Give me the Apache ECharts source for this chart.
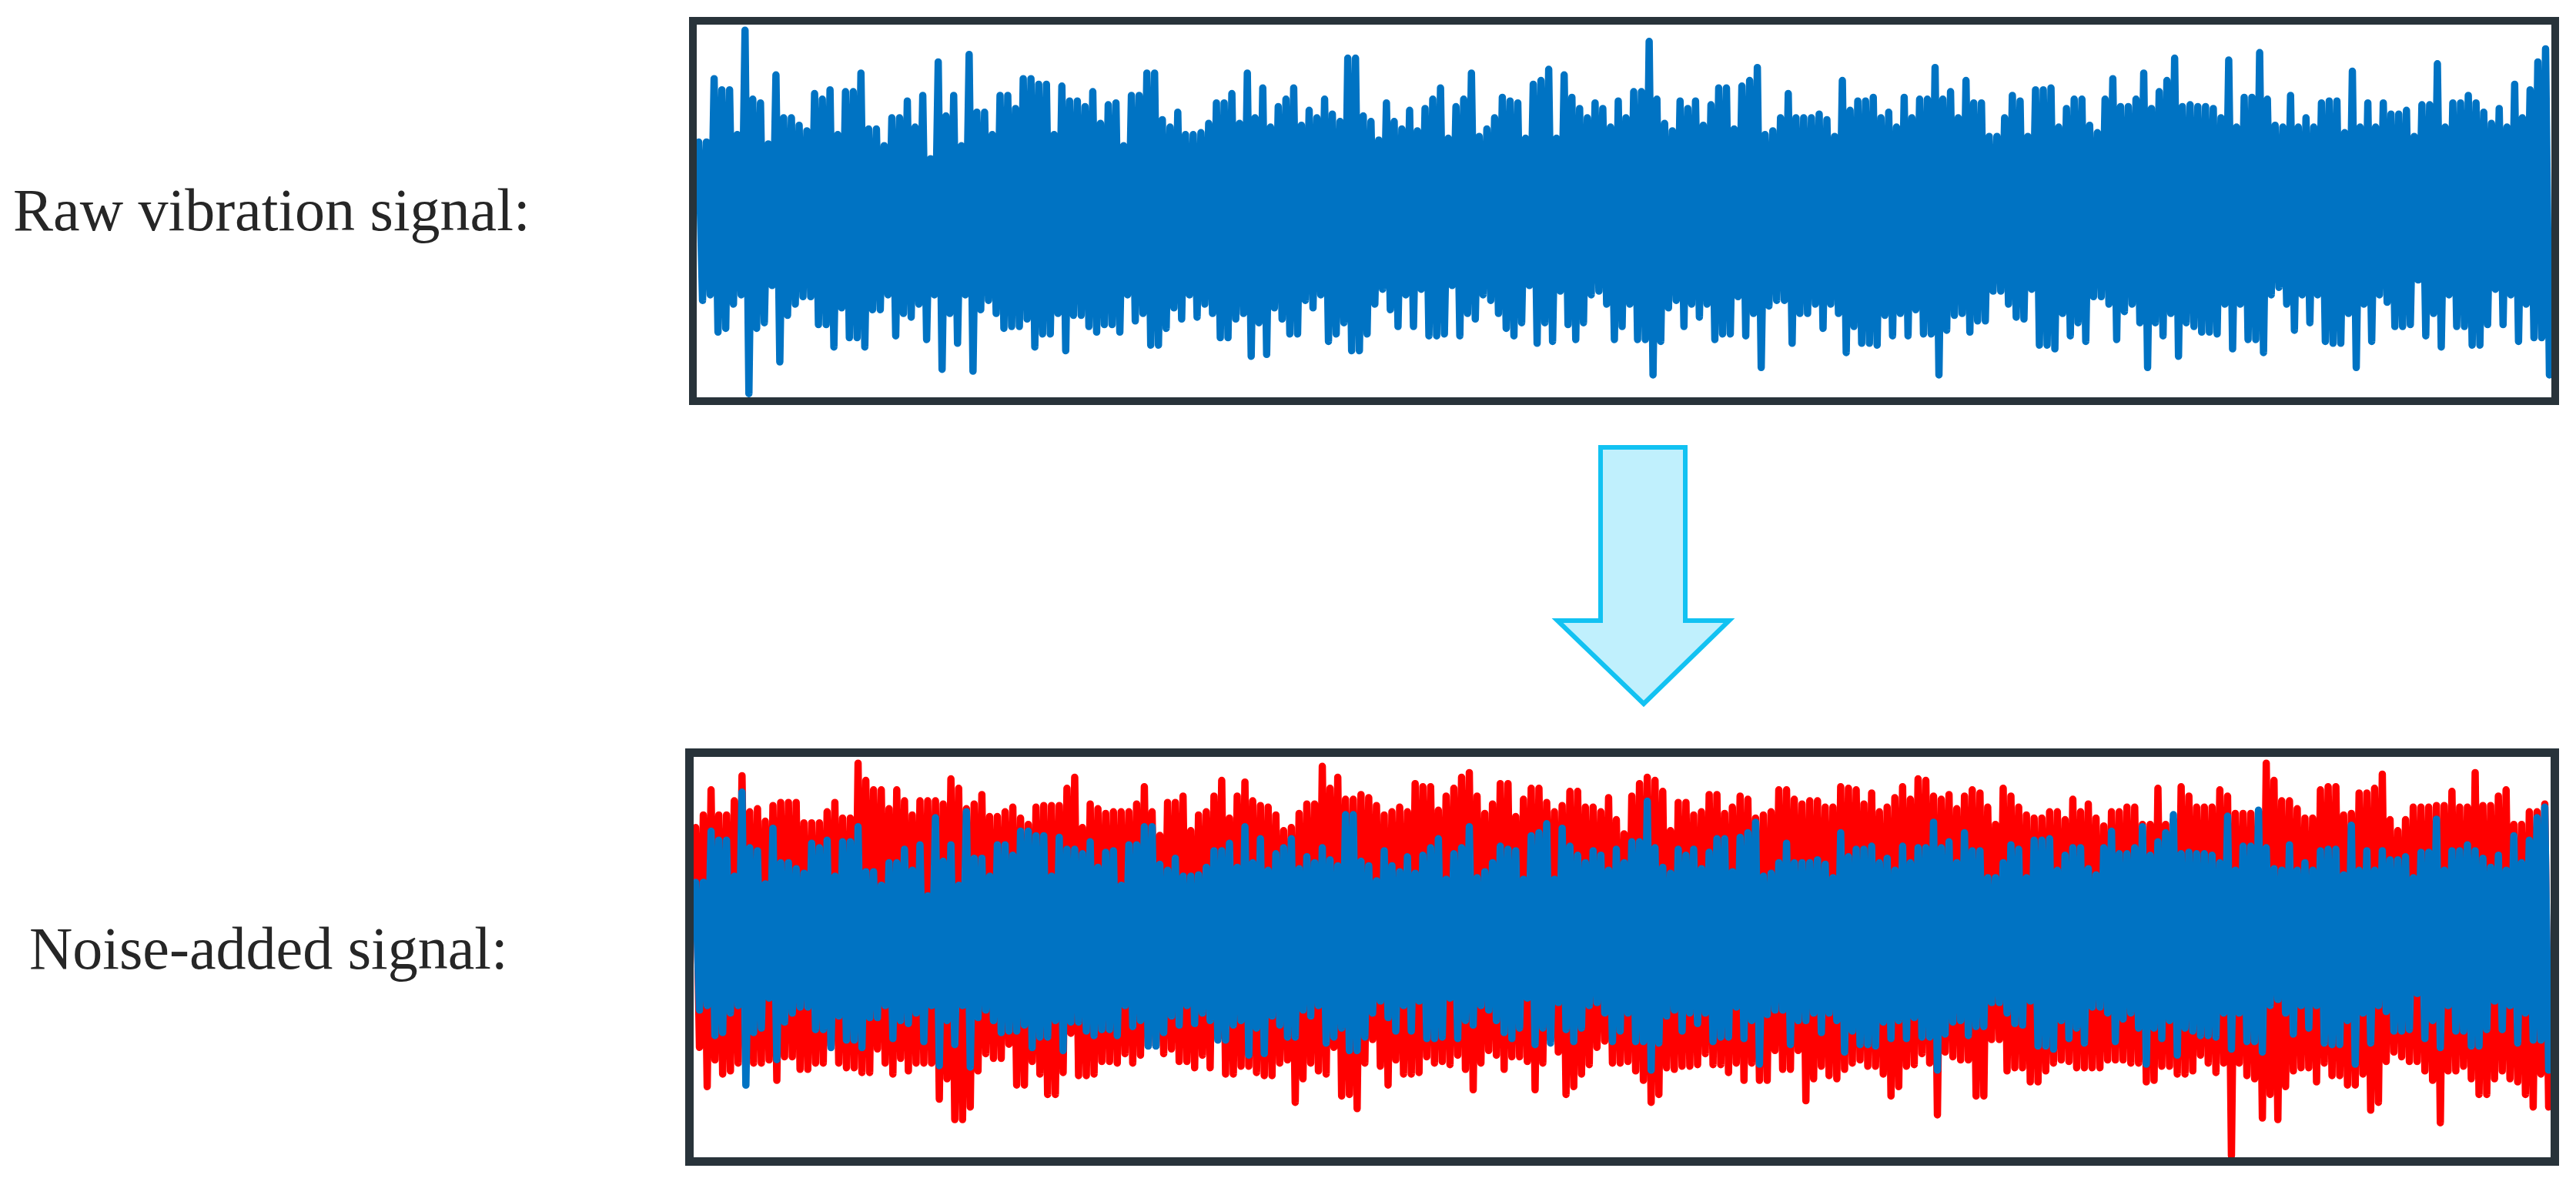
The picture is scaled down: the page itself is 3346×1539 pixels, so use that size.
<!DOCTYPE html>
<html>
<head>
<meta charset="utf-8">
<title>Raw vs noise-added vibration signal</title>
<script src="https://cdn.jsdelivr.net/npm/echarts@6/dist/echarts.min.js"></script>
<style>
  html, body { margin: 0; padding: 0; background: #fff; }
  #chart { width: 3346px; height: 1539px; }
</style>
</head>
<body>
<div id="chart"></div>
<script>
// Envelope of the raw vibration signal, one value per column (upper peak / lower peak magnitude)
const rawUp = [
  37, 37, 71, 65, 65, 41, 97, 60, 58, 36,
  73, 50, 50, 46, 43, 63, 60, 65, 41, 64,
  64, 74, 44, 44, 35, 50, 50, 59, 45, 62,
  28, 80, 51, 62, 35, 84, 53, 53, 41, 62,
  62, 55, 71, 71, 68, 68, 41, 67, 59, 59,
  56, 64, 47, 57, 58, 35, 62, 62, 74, 74,
  49, 45, 53, 41, 41, 42, 47, 58, 58, 63,
  47, 74, 50, 66, 45, 56, 60, 66, 46, 54,
  50, 60, 52, 48, 82, 82, 51, 48, 38, 58,
  48, 44, 54, 43, 55, 60, 66, 39, 56, 60,
  74, 40, 44, 50, 61, 59, 58, 39, 68, 70,
  76, 39, 73, 61, 55, 50, 58, 55, 45, 59,
  50, 64, 64, 91, 60, 47, 43, 59, 55, 59,
  46, 57, 66, 66, 44, 67, 70, 77, 41, 43,
  50, 63, 50, 50, 50, 52, 49, 40, 70, 54,
  59, 59, 61, 50, 53, 45, 61, 50, 60, 60,
  77, 60, 64, 50, 70, 58, 58, 40, 40, 50,
  62, 59, 40, 65, 65, 66, 45, 55, 60, 60,
  46, 42, 60, 71, 56, 56, 60, 74, 55, 64,
  70, 82, 56, 57, 56, 56, 55, 50, 81, 45,
  61, 61, 85, 60, 46, 45, 62, 45, 50, 45,
  58, 59, 59, 42, 75, 45, 58, 45, 58, 52,
  52, 54, 40, 57, 57, 79, 45, 58, 58, 62,
  58, 53, 47, 55, 45, 68, 50, 65, 80, 87
];
const rawDown = [
  48, 45, 65, 63, 50, 45, 98, 63, 60, 40,
  81, 56, 50, 46, 46, 61, 61, 73, 52, 68,
  68, 73, 53, 53, 45, 67, 55, 57, 50, 69,
  45, 85, 55, 71, 45, 86, 53, 48, 55, 63,
  62, 62, 58, 73, 66, 66, 55, 75, 56, 56,
  62, 65, 61, 61, 65, 45, 59, 55, 72, 72,
  63, 52, 58, 45, 57, 50, 55, 68, 68, 58,
  55, 78, 60, 77, 52, 58, 66, 66, 48, 52,
  45, 70, 66, 60, 75, 75, 66, 50, 42, 53,
  62, 45, 62, 42, 67, 67, 66, 40, 67, 55,
  58, 45, 48, 55, 63, 67, 60, 40, 71, 60,
  70, 43, 61, 69, 60, 45, 43, 50, 69, 62,
  50, 69, 69, 88, 70, 52, 48, 62, 50, 57,
  50, 69, 66, 66, 46, 67, 55, 84, 51, 48,
  48, 71, 55, 55, 50, 63, 50, 55, 76, 62,
  71, 71, 72, 56, 67, 55, 67, 53, 66, 66,
  88, 64, 56, 55, 65, 59, 59, 43, 43, 50,
  57, 58, 42, 72, 72, 74, 55, 67, 60, 70,
  46, 46, 50, 69, 54, 50, 60, 84, 60, 67,
  55, 78, 60, 62, 65, 65, 66, 50, 74, 50,
  69, 69, 76, 45, 41, 50, 64, 45, 60, 45,
  70, 71, 71, 55, 84, 50, 70, 45, 49, 62,
  62, 61, 37, 67, 55, 73, 45, 62, 62, 72,
  72, 61, 42, 61, 45, 70, 50, 68, 68, 88
];

// Envelope of the noise-added signal (same columns)
const noisyUp = [
  70, 78, 94, 78, 78, 87, 103, 80, 82, 74,
  84, 86, 86, 86, 73, 73, 73, 80, 86, 76,
  76, 111, 100, 94, 94, 82, 94, 87, 78, 87,
  87, 87, 85, 101, 95, 82, 85, 91, 77, 77,
  80, 83, 76, 72, 83, 84, 84, 84, 95, 102,
  70, 85, 82, 79, 80, 80, 80, 85, 96, 80,
  65, 86, 86, 90, 68, 78, 80, 90, 100, 76,
  90, 99, 87, 84, 83, 78, 68, 70, 79, 85,
  85, 109, 95, 102, 88, 88, 91, 89, 84, 78,
  80, 83, 80, 98, 96, 96, 81, 90, 95, 102,
  105, 90, 79, 85, 98, 98, 77, 88, 95, 95,
  86, 80, 84, 93, 93, 83, 83, 80, 89, 75,
  66, 90, 98, 102, 100, 93, 68, 86, 86, 78,
  80, 91, 91, 79, 83, 90, 88, 76, 78, 80,
  94, 94, 88, 85, 87, 87, 83, 83, 96, 95,
  94, 85, 92, 80, 83, 89, 96, 88, 101, 100,
  90, 88, 91, 82, 90, 94, 92, 83, 72, 95,
  90, 83, 78, 76, 76, 80, 80, 75, 88, 80,
  85, 76, 71, 80, 80, 83, 83, 72, 72, 95,
  72, 75, 96, 90, 83, 83, 83, 94, 90, 79,
  79, 79, 80, 111, 100, 87, 87, 82, 76, 76,
  94, 96, 96, 78, 79, 92, 92, 95, 104, 75,
  68, 75, 83, 83, 83, 84, 84, 93, 83, 83,
  105, 84, 84, 90, 94, 72, 72, 80, 80, 85
];
const noisyDown = [
  70, 95, 78, 87, 85, 80, 75, 80, 80, 78,
  91, 76, 76, 84, 84, 80, 80, 69, 80, 83,
  83, 86, 86, 71, 80, 87, 77, 85, 80, 80,
  80, 103, 90, 116, 116, 108, 85, 74, 77, 77,
  68, 94, 94, 79, 87, 100, 100, 86, 61, 88,
  88, 87, 79, 79, 80, 74, 80, 75, 69, 69,
  74, 71, 79, 79, 83, 75, 83, 64, 87, 87,
  82, 82, 86, 88, 88, 80, 78, 105, 90, 80,
  85, 87, 70, 101, 100, 109, 80, 65, 82, 94,
  78, 87, 87, 86, 76, 80, 79, 81, 75, 84,
  97, 80, 72, 75, 84, 76, 76, 79, 97, 80,
  65, 73, 100, 95, 87, 81, 70, 66, 80, 80,
  79, 85, 91, 105, 100, 83, 84, 82, 82, 81,
  74, 81, 81, 86, 80, 91, 80, 91, 91, 72,
  84, 84, 72, 104, 90, 82, 88, 90, 84, 80,
  78, 82, 82, 87, 101, 95, 82, 81, 74, 80,
  113, 73, 76, 78, 78, 101, 101, 65, 65, 85,
  83, 83, 92, 92, 85, 80, 78, 79, 83, 83,
  83, 83, 78, 78, 78, 80, 80, 92, 91, 82,
  82, 87, 87, 85, 75, 80, 86, 80, 139, 80,
  88, 90, 115, 100, 116, 95, 85, 83, 83, 92,
  80, 88, 88, 94, 94, 87, 110, 105, 79, 73,
  76, 79, 79, 85, 91, 118, 85, 85, 82, 90,
  100, 100, 90, 85, 90, 92, 100, 108, 87, 108
];

const panelLabels = ['Raw vibration signal:', 'Noise-added signal:'];

const BLUE = '#0073c3';
const RED = '#ff0000';
const FRAME = '#28333a';

/**
 * 上下包络交替连成锯齿线: 每列一个上峰, 一个下峰
 */
function zigzag(up, down) {
  const pts = [];
  for (let i = 0; i < up.length; i++) {
    pts.push([i + 0.25, up[i]]);
    pts.push([i + 0.75, -down[i]]);
  }
  return pts;
}

function signalSeries(up, down, xIndex, yIndex, color, z) {
  return {
    type: 'line',
    xAxisIndex: xIndex,
    yAxisIndex: yIndex,
    data: zigzag(up, down),
    symbol: 'none',
    silent: true,
    sampling: null,
    z: z,
    lineStyle: { color: color, width: 9.5, cap: 'round', join: 'round' },
    itemStyle: { color: color }
  };
}

const chart = echarts.init(document.getElementById('chart'), null, { renderer: 'canvas' });
const cols = rawUp.length;

const option = {
  animation: false,
  backgroundColor: '#ffffff',
  grid: [
    { left: 905, top: 32, width: 2409, height: 484 },
    { left: 901, top: 983, width: 2412, height: 520 }
  ],
  xAxis: [
    { type: 'value', gridIndex: 0, min: 0, max: cols, show: false },
    { type: 'value', gridIndex: 1, min: 0, max: cols, show: false }
  ],
  yAxis: [
    { type: 'value', gridIndex: 0, min: -100, max: 100, show: false },
    // noisy signal scale
    { type: 'value', gridIndex: 1, min: -140, max: 115, show: false },
    // raw signal drawn over it, a bit compressed
    { type: 'value', gridIndex: 1, min: -146, max: 120.5, show: false }
  ],
  series: [
    signalSeries(rawUp, rawDown, 0, 0, BLUE, 2),
    signalSeries(noisyUp, noisyDown, 1, 1, RED, 2),
    signalSeries(rawUp, rawDown, 1, 2, BLUE, 3)
  ],
  graphic: {
    elements: [
      {
        type: 'text', x: 17, y: 279, z: 10,
        style: {
          text: panelLabels[0], fill: '#262626',
          font: '78px "Liberation Serif", "DejaVu Serif", serif',
          verticalAlign: 'middle', align: 'left'
        }
      },
      {
        type: 'text', x: 38, y: 1238, z: 10,
        style: {
          text: panelLabels[1], fill: '#262626',
          font: '78px "Liberation Serif", "DejaVu Serif", serif',
          verticalAlign: 'middle', align: 'left'
        }
      },
      // panel frames
      {
        type: 'rect', z: 100,
        shape: { x: 900, y: 27, width: 2419, height: 494 },
        style: { fill: null, stroke: FRAME, lineWidth: 10 }
      },
      {
        type: 'rect', z: 100,
        shape: { x: 895.5, y: 977.5, width: 2423, height: 531 },
        style: { fill: null, stroke: FRAME, lineWidth: 11 }
      },
      // down arrow between the panels
      {
        type: 'polygon', z: 50,
        shape: {
          points: [
            [2079, 581], [2189, 581], [2189, 806], [2246, 806],
            [2135, 914], [2023, 806], [2079, 806]
          ]
        },
        style: { fill: '#c0f0fd', stroke: '#12c2f2', lineWidth: 6, lineJoin: 'miter' }
      }
    ]
  }
};

chart.setOption(option);
</script>
</body>
</html>
